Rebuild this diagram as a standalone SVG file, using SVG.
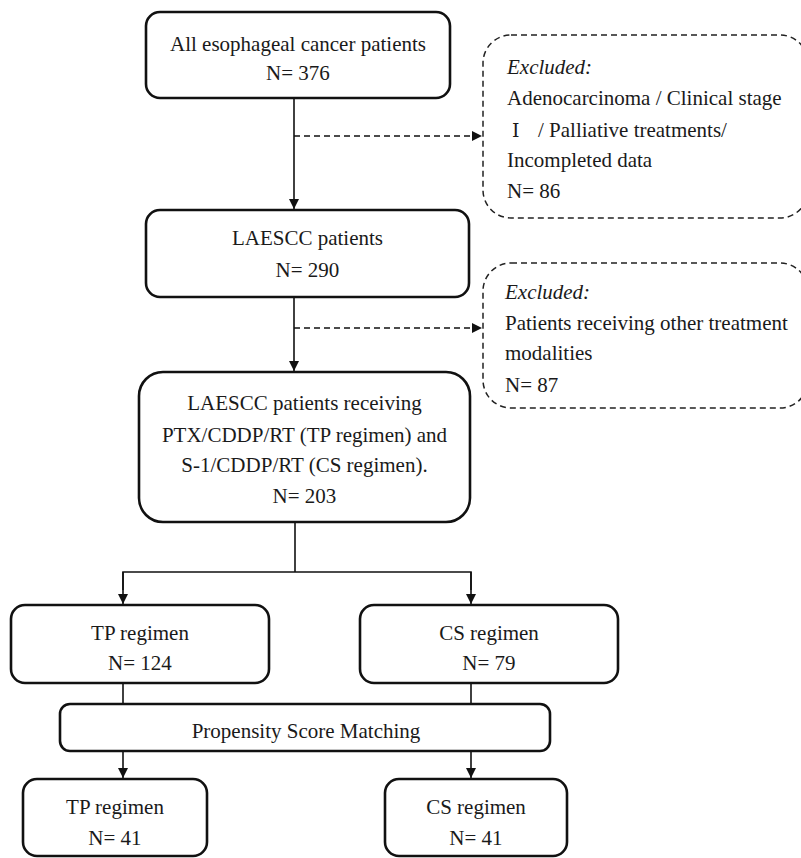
<svg xmlns="http://www.w3.org/2000/svg" width="801" height="858" viewBox="0 0 801 858">
<style>
.box{fill:#fff;stroke:#111;stroke-width:2.6}
.exc{fill:#fff;stroke:#222;stroke-width:1.5;stroke-dasharray:6 4}
.t{font-family:"Liberation Serif","Times New Roman",serif;font-size:21px;fill:#1a1a1a}
.c{text-anchor:middle}
.i{font-style:italic}
.ln{fill:none;stroke:#111;stroke-width:1.6}
.dl{fill:none;stroke:#111;stroke-width:1.6;stroke-dasharray:6 4}
</style>
<defs>
<marker id="ah" viewBox="0 0 10 10" refX="10" refY="5" markerWidth="10" markerHeight="10" markerUnits="userSpaceOnUse" orient="auto">
<path d="M0,0 L10,5 L0,10 Z" fill="#111"/>
</marker>
</defs>
<g id="connectors">
<line class="ln" x1="294" y1="98" x2="294" y2="209" marker-end="url(#ah)"/>
<line class="dl" x1="294" y1="136" x2="482" y2="136" marker-end="url(#ah)"/>
<line class="ln" x1="294" y1="297" x2="294" y2="371" marker-end="url(#ah)"/>
<line class="dl" x1="294" y1="328" x2="482" y2="328" marker-end="url(#ah)"/>
<line class="ln" x1="295" y1="522" x2="295" y2="572"/>
<polyline class="ln" points="123,590 123,572 471,572 471,590"/>
<line class="ln" x1="123" y1="572" x2="123" y2="604" marker-end="url(#ah)"/>
<line class="ln" x1="471" y1="572" x2="471" y2="604" marker-end="url(#ah)"/>
<line class="ln" x1="123" y1="683" x2="123" y2="704"/>
<line class="ln" x1="471" y1="683" x2="471" y2="704"/>
<line class="ln" x1="123" y1="751" x2="123" y2="778" marker-end="url(#ah)"/>
<line class="ln" x1="471" y1="751" x2="471" y2="778" marker-end="url(#ah)"/>
</g>
<g id="all">
<rect class="box" x="146" y="12" width="304" height="86" rx="14"/>
<text class="t c" x="298" y="51">All esophageal cancer patients</text>
<text class="t c" x="298" y="80">N= 376</text>
</g>
<g id="excl1">
<rect class="exc" x="483" y="35" width="325" height="183" rx="28"/>
<text class="t i" x="507" y="74">Excluded:</text>
<text class="t" x="507" y="105">Adenocarcinoma / Clinical stage</text>
<text class="t" y="137"><tspan x="512" font-family="'DejaVu Serif','Noto Sans CJK SC',serif" font-size="19">Ⅰ</tspan><tspan x="538">/ Palliative treatments/</tspan></text>
<text class="t" x="507" y="167">Incompleted data</text>
<text class="t" x="507" y="198">N= 86</text>
</g>
<g id="laescc">
<rect class="box" x="146" y="210" width="323" height="87" rx="14"/>
<text class="t c" x="307.5" y="245">LAESCC patients</text>
<text class="t c" x="307.5" y="277">N= 290</text>
</g>
<g id="excl2">
<rect class="exc" x="483" y="263" width="325" height="145" rx="28"/>
<text class="t i" x="505" y="299">Excluded:</text>
<text class="t" x="505" y="330">Patients receiving other treatment</text>
<text class="t" x="505" y="360">modalities</text>
<text class="t" x="505" y="392">N= 87</text>
</g>
<g id="regimens">
<rect class="box" x="139" y="372" width="331" height="150" rx="24"/>
<text class="t c" x="304.5" y="410">LAESCC patients receiving</text>
<text class="t c" x="304.5" y="442">PTX/CDDP/RT (TP regimen) and</text>
<text class="t c" x="304.5" y="472">S-1/CDDP/RT (CS regimen).</text>
<text class="t c" x="304.5" y="503">N= 203</text>
</g>
<g id="tp1">
<rect class="box" x="11" y="605" width="258" height="78" rx="14"/>
<text class="t c" x="140" y="640">TP regimen</text>
<text class="t c" x="140" y="670">N= 124</text>
</g>
<g id="cs1">
<rect class="box" x="360" y="605" width="258" height="78" rx="14"/>
<text class="t c" x="489" y="640">CS regimen</text>
<text class="t c" x="489" y="670">N= 79</text>
</g>
<g id="psm">
<rect class="box" x="60" y="704" width="490" height="47" rx="10"/>
<text class="t c" x="306" y="738">Propensity Score Matching</text>
</g>
<g id="tp2">
<rect class="box" x="23" y="779" width="184" height="77" rx="14"/>
<text class="t c" x="115" y="814">TP regimen</text>
<text class="t c" x="115" y="845">N= 41</text>
</g>
<g id="cs2">
<rect class="box" x="385" y="779" width="182" height="77" rx="14"/>
<text class="t c" x="476" y="814">CS regimen</text>
<text class="t c" x="476" y="845">N= 41</text>
</g>
</svg>
